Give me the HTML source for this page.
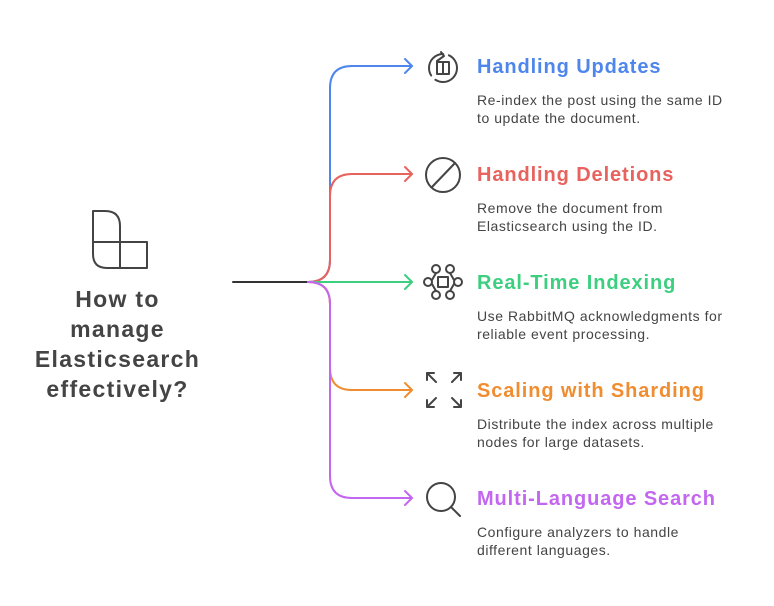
<!DOCTYPE html>
<html><head><style>
body{margin:0;width:774px;height:606px;background:#fff;overflow:hidden;font-family:"Liberation Sans",sans-serif;}
.t{position:absolute;left:477px;font-weight:bold;font-size:20px;letter-spacing:0.9px;white-space:nowrap;}
.d{position:absolute;left:477px;font-size:14px;color:#444;line-height:18px;letter-spacing:0.55px;white-space:nowrap;}
.h{position:absolute;left:0px;width:235px;text-align:center;font-weight:bold;font-size:23px;color:#444;line-height:30px;top:284px;letter-spacing:1.3px;}
</style></head><body>
<svg width="774" height="606" style="position:absolute;left:0;top:0" fill="none" stroke-width="2" stroke-linecap="round" stroke-linejoin="round">
<line x1="233" y1="282" x2="310" y2="282" stroke="#333"/>
<path d="M308 282 Q330 282 330 260 L330 88 Q330 66 352 66 L412 66" stroke="#4e86ec"/>
<path d="M308 282 Q330 282 330 260 L330 196 Q330 174 352 174 L412 174" stroke="#e8625e"/>
<path d="M308 282 L412 282" stroke="#3dcf80"/>
<path d="M308 282 Q330 282 330 304 L330 368 Q330 390 352 390 L412 390" stroke="#f08d30"/>
<path d="M308 282 Q330 282 330 304 L330 476 Q330 498 352 498 L412 498" stroke="#c366f0"/>
<path d="M405 59 L412 66 L405 73" stroke="#4e86ec"/>
<path d="M405 167 L412 174 L405 181" stroke="#e8625e"/>
<path d="M405 275 L412 282 L405 289" stroke="#3dcf80"/>
<path d="M405 383 L412 390 L405 397" stroke="#f08d30"/>
<path d="M405 491 L412 498 L405 505" stroke="#c366f0"/>
<g stroke="#444">
<path d="M93 211 L105 211 Q120 211 120 226 L120 268 L107 268 Q93 268 93 254 Z M93 242 L147 242 L147 268 L120 268"/>
<circle cx="443" cy="68" r="14" stroke-dasharray="30 6"/>
<path d="M437 61 L444 56 L441 52"/>
<rect x="437" y="62" width="12" height="12"/>
<line x1="443" y1="62" x2="443" y2="74"/>
<circle cx="443" cy="175" r="17"/>
<line x1="432" y1="187" x2="455" y2="163"/>
<rect x="438" y="277" width="10" height="10"/>
<circle cx="436" cy="269" r="4"/><circle cx="450" cy="269" r="4"/>
<circle cx="436" cy="295" r="4"/><circle cx="450" cy="295" r="4"/>
<circle cx="428" cy="282" r="4"/><circle cx="458" cy="282" r="4"/>
<path d="M432 280 L436 273 M454 280 L450 273 M432 284 L436 291 M454 284 L450 291"/>
<path d="M427 373 L436 382 M427 373 L427 380 M427 373 L434 373"/>
<path d="M461 373 L452 382 M461 373 L461 380 M461 373 L454 373"/>
<path d="M427 407 L436 398 M427 407 L427 400 M427 407 L434 407"/>
<path d="M461 407 L452 398 M461 407 L461 400 M461 407 L454 407"/>
<circle cx="441" cy="497" r="14"/>
<line x1="451" y1="507" x2="460" y2="516"/>
</g>
</svg>
<div class="h">How to<br>manage<br>Elasticsearch<br>effectively?</div>
<div class="t" style="top:56px;color:#4e86ec">Handling Updates</div>
<div class="d" style="top:91px">Re-index the post using the same ID<br>to update the document.</div>
<div class="t" style="top:164px;color:#e8625e">Handling Deletions</div>
<div class="d" style="top:199px">Remove the document from<br>Elasticsearch using the ID.</div>
<div class="t" style="top:272px;color:#3dcf80">Real-Time Indexing</div>
<div class="d" style="top:307px">Use RabbitMQ acknowledgments for<br>reliable event processing.</div>
<div class="t" style="top:380px;color:#f08d30">Scaling with Sharding</div>
<div class="d" style="top:415px">Distribute the index across multiple<br>nodes for large datasets.</div>
<div class="t" style="top:488px;color:#c366f0">Multi-Language Search</div>
<div class="d" style="top:523px">Configure analyzers to handle<br>different languages.</div>
</body></html>
